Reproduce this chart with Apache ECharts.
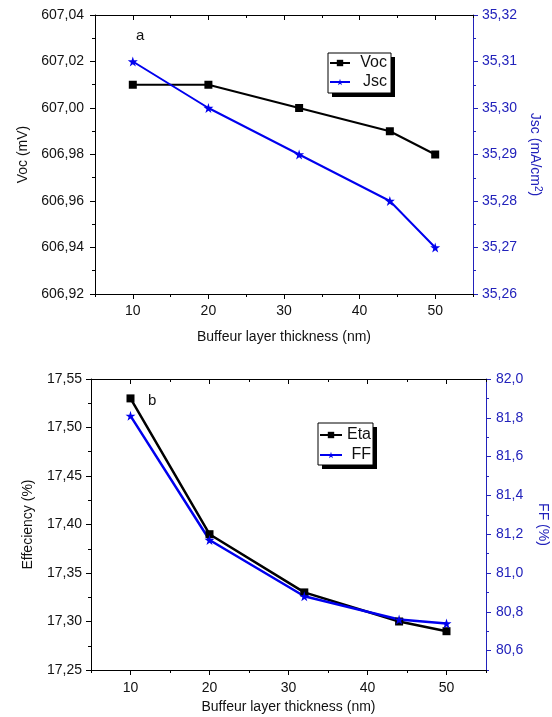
<!DOCTYPE html>
<html>
<head>
<meta charset="utf-8">
<script src="https://cdn.jsdelivr.net/npm/echarts@6/dist/echarts.min.js"></script>
<style>
html,body{margin:0;padding:0;background:#fff;}
#c{width:552px;height:717px;}
</style>
</head>
<body>
<div id="c"></div>
<script>
// ---- data ----
const thickness = [10, 20, 32, 44, 50];
const vocValues = [607.01, 607.01, 607.00, 606.99, 606.98];
const jscValues = [35.31, 35.30, 35.29, 35.28, 35.27];
const etaValues = [17.53, 17.39, 17.33, 17.30, 17.29];
const ffValues = [81.81, 81.17, 80.88, 80.76, 80.74];
const xTickLabels = [10, 20, 30, 40, 50];
const ffTickLabels = [80.6, 80.8, 81.0, 81.2, 81.4, 81.6, 81.8, 82.0];

const FONT = "'Liberation Sans', Arial, sans-serif";
const BLUE = '#0000ee';
const AXBLUE = '#2222bb';
const STAR = 'path://M50,0 L61,35 L98,35 L68,57 L79,91 L50,70 L21,91 L32,57 L2,35 L39,35 Z';

function pairs(xs, ys){ return xs.map((x,i)=>[x, ys[i]]); }
function comma(d){ return v => Number(v).toFixed(d).replace('.', ','); }

function xAxes(grid, labelMargin, nameGap){
  const base = {
    gridIndex: grid, type: 'value', min: 5, max: 55, interval: 10,
    axisLine: {show: true, lineStyle: {color: '#000', width: 1}},
    splitLine: {show: false}
  };
  return [
    Object.assign({}, base, {
      position: 'bottom',
      name: 'Buffeur layer thickness (nm)', nameLocation: 'middle', nameGap: nameGap,
      nameTextStyle: {fontFamily: FONT, fontSize: 14, color: '#111'},
      axisTick: {show: true, inside: false, length: 3, lineStyle: {color: '#000'}},
      minorTick: {show: true, splitNumber: 2, length: 5, lineStyle: {color: '#000'}},
      axisLabel: {show: true, customValues: xTickLabels, fontFamily: FONT, fontSize: 14, color: '#111', margin: labelMargin}
    }),
    Object.assign({}, base, {
      position: 'top',
      axisTick: {show: true, inside: true, length: 3, lineStyle: {color: '#000'}},
      minorTick: {show: true, splitNumber: 2, length: 5, lineStyle: {color: '#000'}},
      axisLabel: {show: false}
    })
  ];
}

function legendBox(x, y, w, h){
  return [
    {type: 'rect', z: 3, silent: true, shape: {x: x + 4, y: y + 4, width: w, height: h}, style: {fill: '#000'}},
    {type: 'rect', z: 4, silent: true, shape: {x: x, y: y, width: w, height: h}, style: {fill: '#fff', stroke: '#000', lineWidth: 1}}
  ];
}

const option = {
  backgroundColor: '#fff',
  animation: false,
  textStyle: {fontFamily: FONT},
  grid: [
    {left: 95, top: 15, width: 378, height: 279, outerBoundsMode: 'none', containLabel: false},
    {left: 91, top: 379, width: 395, height: 291, outerBoundsMode: 'none', containLabel: false}
  ],
  xAxis: [].concat(xAxes(0, 10, 36), xAxes(1, 11, 30)),
  yAxis: [
    {
      gridIndex: 0, type: 'value', position: 'left', min: 606.92, max: 607.04, interval: 0.02,
      name: 'Voc (mV)', nameLocation: 'middle', nameGap: 63,
      nameTextStyle: {fontFamily: FONT, fontSize: 14, color: '#111'},
      axisLine: {show: true, lineStyle: {color: '#000'}},
      axisTick: {show: true, length: 5, lineStyle: {color: '#000'}},
      minorTick: {show: true, splitNumber: 2, length: 3, lineStyle: {color: '#000'}},
      splitLine: {show: false},
      axisLabel: {formatter: comma(2), fontFamily: FONT, fontSize: 14, color: '#111', margin: 11}
    },
    {
      gridIndex: 0, type: 'value', position: 'right', min: 35.26, max: 35.32, interval: 0.01,
      name: 'Jsc (mA/cm{sup|2})', nameLocation: 'middle', nameGap: 49, nameRotate: -90,
      nameTextStyle: {fontFamily: FONT, fontSize: 14, color: AXBLUE,
        rich: {sup: {fontFamily: FONT, fontSize: 10, color: AXBLUE, verticalAlign: 'top', padding: [0, 0, 6, 0]}}},
      axisLine: {show: true, lineStyle: {color: AXBLUE}},
      axisTick: {show: true, length: 5, lineStyle: {color: AXBLUE}},
      minorTick: {show: true, splitNumber: 2, length: 3, lineStyle: {color: AXBLUE}},
      splitLine: {show: false},
      axisLabel: {formatter: comma(2), fontFamily: FONT, fontSize: 14, color: AXBLUE, margin: 9}
    },
    {
      gridIndex: 1, type: 'value', position: 'left', min: 17.25, max: 17.55, interval: 0.05,
      name: 'Effeciency (%)', nameLocation: 'middle', nameGap: 56,
      nameTextStyle: {fontFamily: FONT, fontSize: 14, color: '#111'},
      axisLine: {show: true, lineStyle: {color: '#000'}},
      axisTick: {show: true, length: 5, lineStyle: {color: '#000'}},
      minorTick: {show: true, splitNumber: 2, length: 3, lineStyle: {color: '#000'}},
      splitLine: {show: false},
      axisLabel: {formatter: comma(2), fontFamily: FONT, fontSize: 14, color: '#111', margin: 9}
    },
    {
      gridIndex: 1, type: 'value', position: 'right', min: 80.5, max: 82.0, interval: 0.1,
      name: 'FF (%)', nameLocation: 'middle', nameGap: 50, nameRotate: -90,
      nameTextStyle: {fontFamily: FONT, fontSize: 14, color: AXBLUE},
      axisLine: {show: true, lineStyle: {color: AXBLUE}},
      axisTick: {show: true, length: 5, customValues: ffTickLabels, lineStyle: {color: AXBLUE}},
      splitLine: {show: false},
      axisLabel: {customValues: ffTickLabels, formatter: comma(1), fontFamily: FONT, fontSize: 14, color: AXBLUE, margin: 10}
    },
    {
      gridIndex: 1, type: 'value', position: 'right', min: 80.5, max: 82.0, interval: 0.1,
      axisLine: {show: false},
      axisTick: {show: true, length: 3, lineStyle: {color: AXBLUE}},
      splitLine: {show: false},
      axisLabel: {show: false}
    }
  ],
  legend: [
    {
      data: ['Voc', 'Jsc'], orient: 'vertical', left: 329, top: 55, z: 6,
      itemWidth: 20, itemHeight: 8, itemGap: 3, padding: 0,
      formatter: n => '{t|' + n + '}',
      textStyle: {fontFamily: FONT, fontSize: 16, color: '#111',
        rich: {t: {width: 32, align: 'right', fontFamily: FONT, fontSize: 16, color: '#111'}}}
    },
    {
      data: ['Eta', 'FF'], orient: 'vertical', left: 319, top: 427, z: 6,
      itemWidth: 22, itemHeight: 8, itemGap: 4, padding: 0,
      formatter: n => '{t|' + n + '}',
      textStyle: {fontFamily: FONT, fontSize: 16, color: '#111',
        rich: {t: {width: 24, align: 'right', fontFamily: FONT, fontSize: 16, color: '#111'}}}
    }
  ],
  graphic: [].concat(
    legendBox(328, 53, 63, 40),
    legendBox(318, 423, 55, 42),
    [
      {type: 'text', left: 136, top: 28, style: {text: 'a', fontFamily: FONT, fontSize: 15, fill: '#111'}},
      {type: 'text', left: 148, top: 393, style: {text: 'b', fontFamily: FONT, fontSize: 15, fill: '#111'}}
    ]
  ),
  series: [
    {
      name: 'Voc', type: 'line', xAxisIndex: 0, yAxisIndex: 0,
      data: pairs(thickness, vocValues),
      symbol: 'rect', symbolSize: 8,
      lineStyle: {color: '#000', width: 2}, itemStyle: {color: '#000'}
    },
    {
      name: 'Jsc', type: 'line', xAxisIndex: 0, yAxisIndex: 1,
      data: pairs(thickness, jscValues),
      symbol: STAR, symbolSize: 10,
      lineStyle: {color: BLUE, width: 2}, itemStyle: {color: BLUE}
    },
    {
      name: 'Eta', type: 'line', xAxisIndex: 2, yAxisIndex: 2,
      data: pairs(thickness, etaValues),
      symbol: 'rect', symbolSize: 8,
      lineStyle: {color: '#000', width: 2.5}, itemStyle: {color: '#000'}
    },
    {
      name: 'FF', type: 'line', xAxisIndex: 2, yAxisIndex: 3,
      data: pairs(thickness, ffValues),
      symbol: STAR, symbolSize: 10,
      lineStyle: {color: BLUE, width: 2.5}, itemStyle: {color: BLUE}
    }
  ]
};

const chart = echarts.init(document.getElementById('c'), null, {renderer: 'canvas'});
chart.setOption(option);
</script>
</body>
</html>
